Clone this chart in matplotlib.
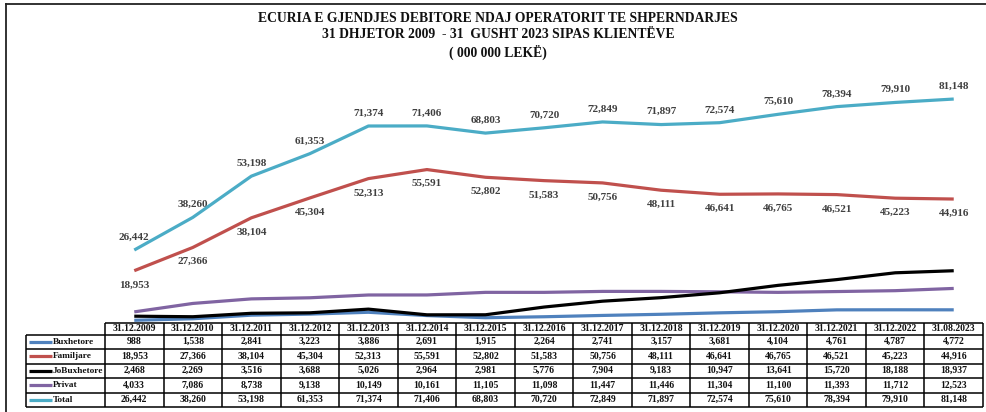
import matplotlib
matplotlib.use("Agg")
import matplotlib.pyplot as plt
from matplotlib.lines import Line2D

plt.rcParams['font.family'] = ['Liberation Serif', 'DejaVu Serif']

dates = ["31.12.2009", "31.12.2010", "31.12.2011", "31.12.2012", "31.12.2013",
         "31.12.2014", "31.12.2015", "31.12.2016", "31.12.2017", "31.12.2018",
         "31.12.2019", "31.12.2020", "31.12.2021", "31.12.2022", "31.08.2023"]
buxhetore = [988, 1538, 2841, 3223, 3886, 2691, 1915, 2264, 2741, 3157, 3681, 4104, 4761, 4787, 4772]
familjare = [18953, 27366, 38104, 45304, 52313, 55591, 52802, 51583, 50756, 48111, 46641, 46765, 46521, 45223, 44916]
jobuxhetore = [2468, 2269, 3516, 3688, 5026, 2964, 2981, 5776, 7904, 9183, 10947, 13641, 15720, 18188, 18937]
privat = [4033, 7086, 8738, 9138, 10149, 10161, 11105, 11098, 11447, 11446, 11304, 11100, 11393, 11712, 12523]
total = [26442, 38260, 53198, 61353, 71374, 71406, 68803, 70720, 72849, 71897, 72574, 75610, 78394, 79910, 81148]

series_names = ["Buxhetore", "Familjare", "JoBuxhetore", "Privat", "Total"]
series_values = [buxhetore, familjare, jobuxhetore, privat, total]
series_colors = ["#4F81BD", "#C0504D", "#000000", "#8064A2", "#4BACC6"]

title = ("ECURIA E GJENDJES DEBITORE NDAJ OPERATORIT TE SHPERNDARJES\n"
         "31 DHJETOR 2009  - 31  GUSHT 2023 SIPAS KLIENTËVE\n"
         "( 000 000 LEKË)")

W, H = 986, 412
fig = plt.figure(figsize=(W / 100, H / 100), dpi=100)


def px_axes(l, t, r, b):
    return fig.add_axes([l / W, 1 - b / H, (r - l) / W, (b - t) / H])


# frame lines (top and left)
fig.add_artist(Line2D([6 / W, 6 / W], [0, 1 - 4 / H], color="#222222", lw=1.3))
fig.add_artist(Line2D([6 / W, 1], [1 - 4 / H, 1 - 4 / H], color="#222222", lw=1.3))

fig.text(498 / W, 1 - 12 / H, title, ha="center", va="top", fontsize=9.8,
         fontweight="bold", linespacing=1.3, color="#111111")

# main chart
ax = px_axes(105, 47, 983, 323)
ax.set_xlim(-0.5, len(dates) - 0.5)
ax.set_ylim(0, 100000)
ax.axis("off")
x = list(range(len(dates)))
zorders = [3, 4, 4, 3, 4]
for name, vals, col, z in zip(series_names, series_values, series_colors, zorders):
    ax.plot(x, vals, color=col, lw=2.3, solid_capstyle="butt", zorder=z, clip_on=False)

label_color = "#404040"
for xi, v in zip(x, total):
    ax.annotate(f"{v:,}", (xi, v), xytext=(0, 6), textcoords="offset points",
                ha="center", va="bottom", fontsize=8, fontweight="bold", color=label_color)
for xi, v in zip(x, familjare):
    ax.annotate(f"{v:,}", (xi, v), xytext=(0, -7), textcoords="offset points",
                ha="center", va="top", fontsize=8, fontweight="bold", color=label_color)

# table (drawn in a pixel-like coordinate system, y downward)
tw, th = 957, 84
tax = px_axes(26, 323, 983, 407)
tax.set_xlim(0, tw)
tax.set_ylim(th, 0)
tax.axis("off")
label_w = 79
ncol = len(dates)
col_w = (tw - label_w) / ncol
head_h = 11.5
row_h = (th - head_h) / len(series_names)
lw_tab = 1.1
col_edges = [label_w + k * col_w for k in range(ncol + 1)]
row_edges = [head_h + k * row_h for k in range(len(series_names) + 1)]

tax.hlines(0, label_w, tw, color="black", lw=lw_tab, clip_on=False)
tax.hlines(row_edges, 0, tw, color="black", lw=lw_tab, clip_on=False)
tax.vlines(0, head_h, th, color="black", lw=lw_tab, clip_on=False)
tax.vlines(col_edges, 0, th, color="black", lw=lw_tab, clip_on=False)

fs_tab = 7
fs_lab = 6.7
for j, d in enumerate(dates):
    tax.text(label_w + (j + 0.5) * col_w, head_h / 2, d, ha="center", va="center",
             fontsize=fs_tab, fontweight="bold", color="#111111")
for i, (name, vals, col) in enumerate(zip(series_names, series_values, series_colors)):
    yc = head_h + row_h * (i + 0.5)
    tax.plot([3, 26], [yc, yc], color=col, lw=2.3, solid_capstyle="butt", clip_on=False)
    tax.text(26.5, yc, name, ha="left", va="center", fontsize=fs_lab, fontweight="bold", color="#111111")
    for j, v in enumerate(vals):
        tax.text(label_w + (j + 0.5) * col_w, yc, f"{v:,}", ha="center", va="center",
                 fontsize=fs_tab, fontweight="bold", color="#111111")

fig.savefig("out.png", dpi=100)
